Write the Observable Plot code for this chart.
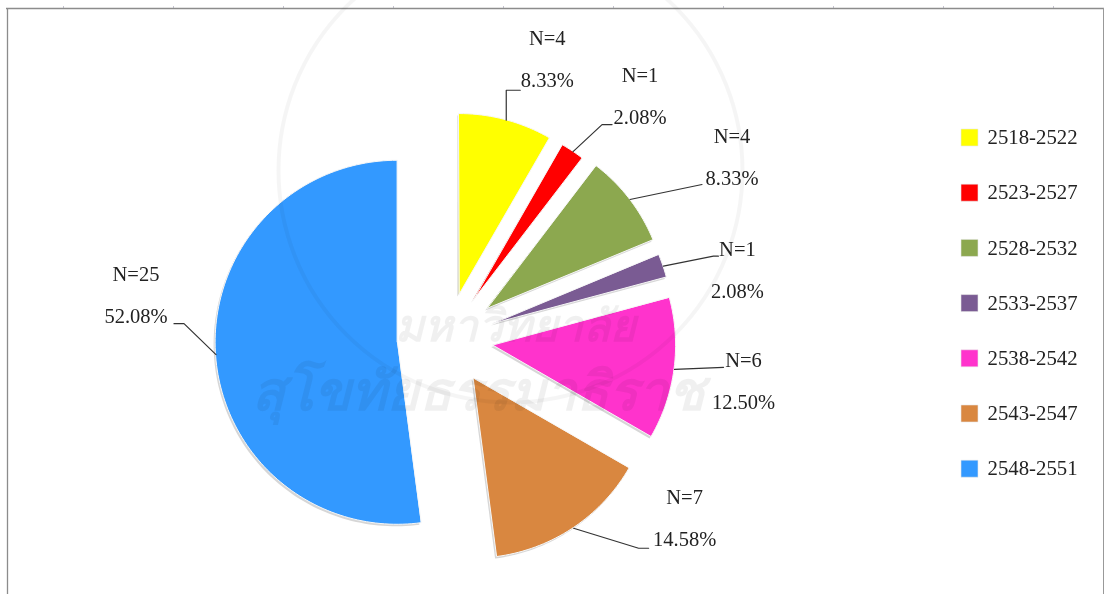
<!DOCTYPE html>
<html>
<head>
<meta charset="utf-8">
<script src="https://cdn.jsdelivr.net/npm/d3@7"></script>
<script src="https://cdn.jsdelivr.net/npm/@observablehq/plot@0.6"></script>
<style>
html,body{margin:0;padding:0;background:#fff;}
svg{display:block;filter:blur(0.4px);}
</style>
</head>
<body>
<div id="chart"></div>
<script>
const categories = ["2518-2522","2523-2527","2528-2532","2533-2537","2538-2542","2543-2547","2548-2551"];
const counts = [4,1,4,1,6,7,25];
const colors = ["#ffff00","#ff0000","#8ca84f","#7a5b93","#ff33cc","#d98740","#3399ff"];
const watermark = ["มหาวิทยาลัย","สุโขทัยธรรมาธิราช"];

// layout (pixels)
const W = 1104, H = 594;
const center = [447,339];
const explode = [46,46,50,48,46,47,50];
const radius = [181,180,180,180,183,180,182];
const elbows = [[[0,-30],[14,-30]],[[29,-27],[39,-27]],[[72,-15]],[[50,-10],[55,-10]],[[49,-2]],[[65,20],[75,20]],[[-32,-31],[-42,-31]]];
const labelShift = [[41,-82],[67,-76],[102,-63],[74,-17],[69,-9],[111,-31],[-80,-80]];
const lineGap = 42;

const total = d3.sum(counts);
const arcs = d3.pie().sort(null).value(d => d)(counts);
const unit = a => [Math.sin(a), -Math.cos(a)];

const slices = arcs.flatMap((s,i) => {
  const mid = (s.startAngle+s.endAngle)/2;
  const [ux,uy] = unit(mid);
  const ax = center[0]+explode[i]*ux, ay = center[1]+explode[i]*uy;
  const pts = [];
  const n = Math.ceil((s.endAngle-s.startAngle)*40);
  for (let k=0;k<=n;k++){
    const [vx,vy] = unit(s.startAngle+(s.endAngle-s.startAngle)*k/n);
    pts.push({ax,ay,x:ax+radius[i]*vx,y:ay+radius[i]*vy,c:categories[i]});
  }
  return pts;
});

const anchors = arcs.map((s,i) => {
  const mid = (s.startAngle+s.endAngle)/2;
  const [ux,uy] = unit(mid);
  return [center[0]+explode[i]*ux+radius[i]*ux, center[1]+explode[i]*uy+radius[i]*uy];
});
const leaders = anchors.flatMap(([x,y],i) =>
  [[0,0],...elbows[i]].map(([dx,dy]) => ({x:x+dx,y:y+dy,c:categories[i]})));
const labels = anchors.flatMap(([x,y],i) => [
  {x:x+labelShift[i][0],y:y+labelShift[i][1],t:"N="+counts[i]},
  {x:x+labelShift[i][0],y:y+labelShift[i][1]+lineGap,t:(counts[i]/total*100).toFixed(2)+"%"}
]);

const legend = categories.map((c,i)=>({c,x:969,y:137+i*55.2}));
const frameTicks = d3.range(63,W,110);

const plot = Plot.plot({
  width:W,height:H,margin:0,
  style:{fontFamily:"'Liberation Serif',serif",background:"#fff"},
  x:{domain:[0,W],range:[0,W],axis:null},
  y:{domain:[0,H],range:[0,H],axis:null},
  color:{domain:categories,range:colors},
  marks:[
    Plot.ruleX(frameTicks,{y1:6,y2:8,stroke:"#c4c4d0"}),
    Plot.ruleY([8],{x1:6,x2:W,stroke:"#8c8c8c",strokeWidth:1.3}),
    Plot.ruleX([7],{y1:8,y2:H,stroke:"#8c8c8c",strokeWidth:1.3}),
    Plot.ruleX([1103],{y1:8,y2:H,stroke:"#999",strokeWidth:1}),
    Plot.area(slices,{x1:"x",y1:"y",x2:"ax",y2:"ay",z:"c",fill:"#999",fillOpacity:0.4,dx:-1.5,dy:2}),
    Plot.area(slices,{x1:"x",y1:"y",x2:"ax",y2:"ay",z:"c",fill:"c",stroke:"#f7f7f7",strokeWidth:1}),
    Plot.line(leaders,{x:"x",y:"y",z:"c",stroke:"#333",strokeWidth:1.2,curve:"linear"}),
    Plot.text(labels,{x:"x",y:"y",text:"t",fontSize:20.5,fill:"#222",textAnchor:"middle",lineAnchor:"middle"}),
    Plot.dot(legend,{x:"x",y:"y",fill:"c",symbol:"square",r:9.6,stroke:"#e8e8e8",strokeWidth:0.6}),
    Plot.text(legend,{x:987,y:"y",text:"c",fontSize:20.8,fill:"#222",textAnchor:"start",lineAnchor:"middle"}),
    Plot.dot([0],{x:510,y:170,r:232,stroke:"#000",strokeOpacity:0.04,strokeWidth:4,fill:"none"}),
    Plot.text(watermark,{x:[515,478],y:[326,392],text:d=>d,fontSize:[44,54],fontWeight:"bold",fontStyle:"italic",fontFamily:"'Noto Sans','DejaVu Sans',sans-serif",fill:"#000",fillOpacity:0.06,textAnchor:"middle",lineAnchor:"middle"})
  ]
});
document.getElementById("chart").append(plot);
</script>
</body>
</html>
